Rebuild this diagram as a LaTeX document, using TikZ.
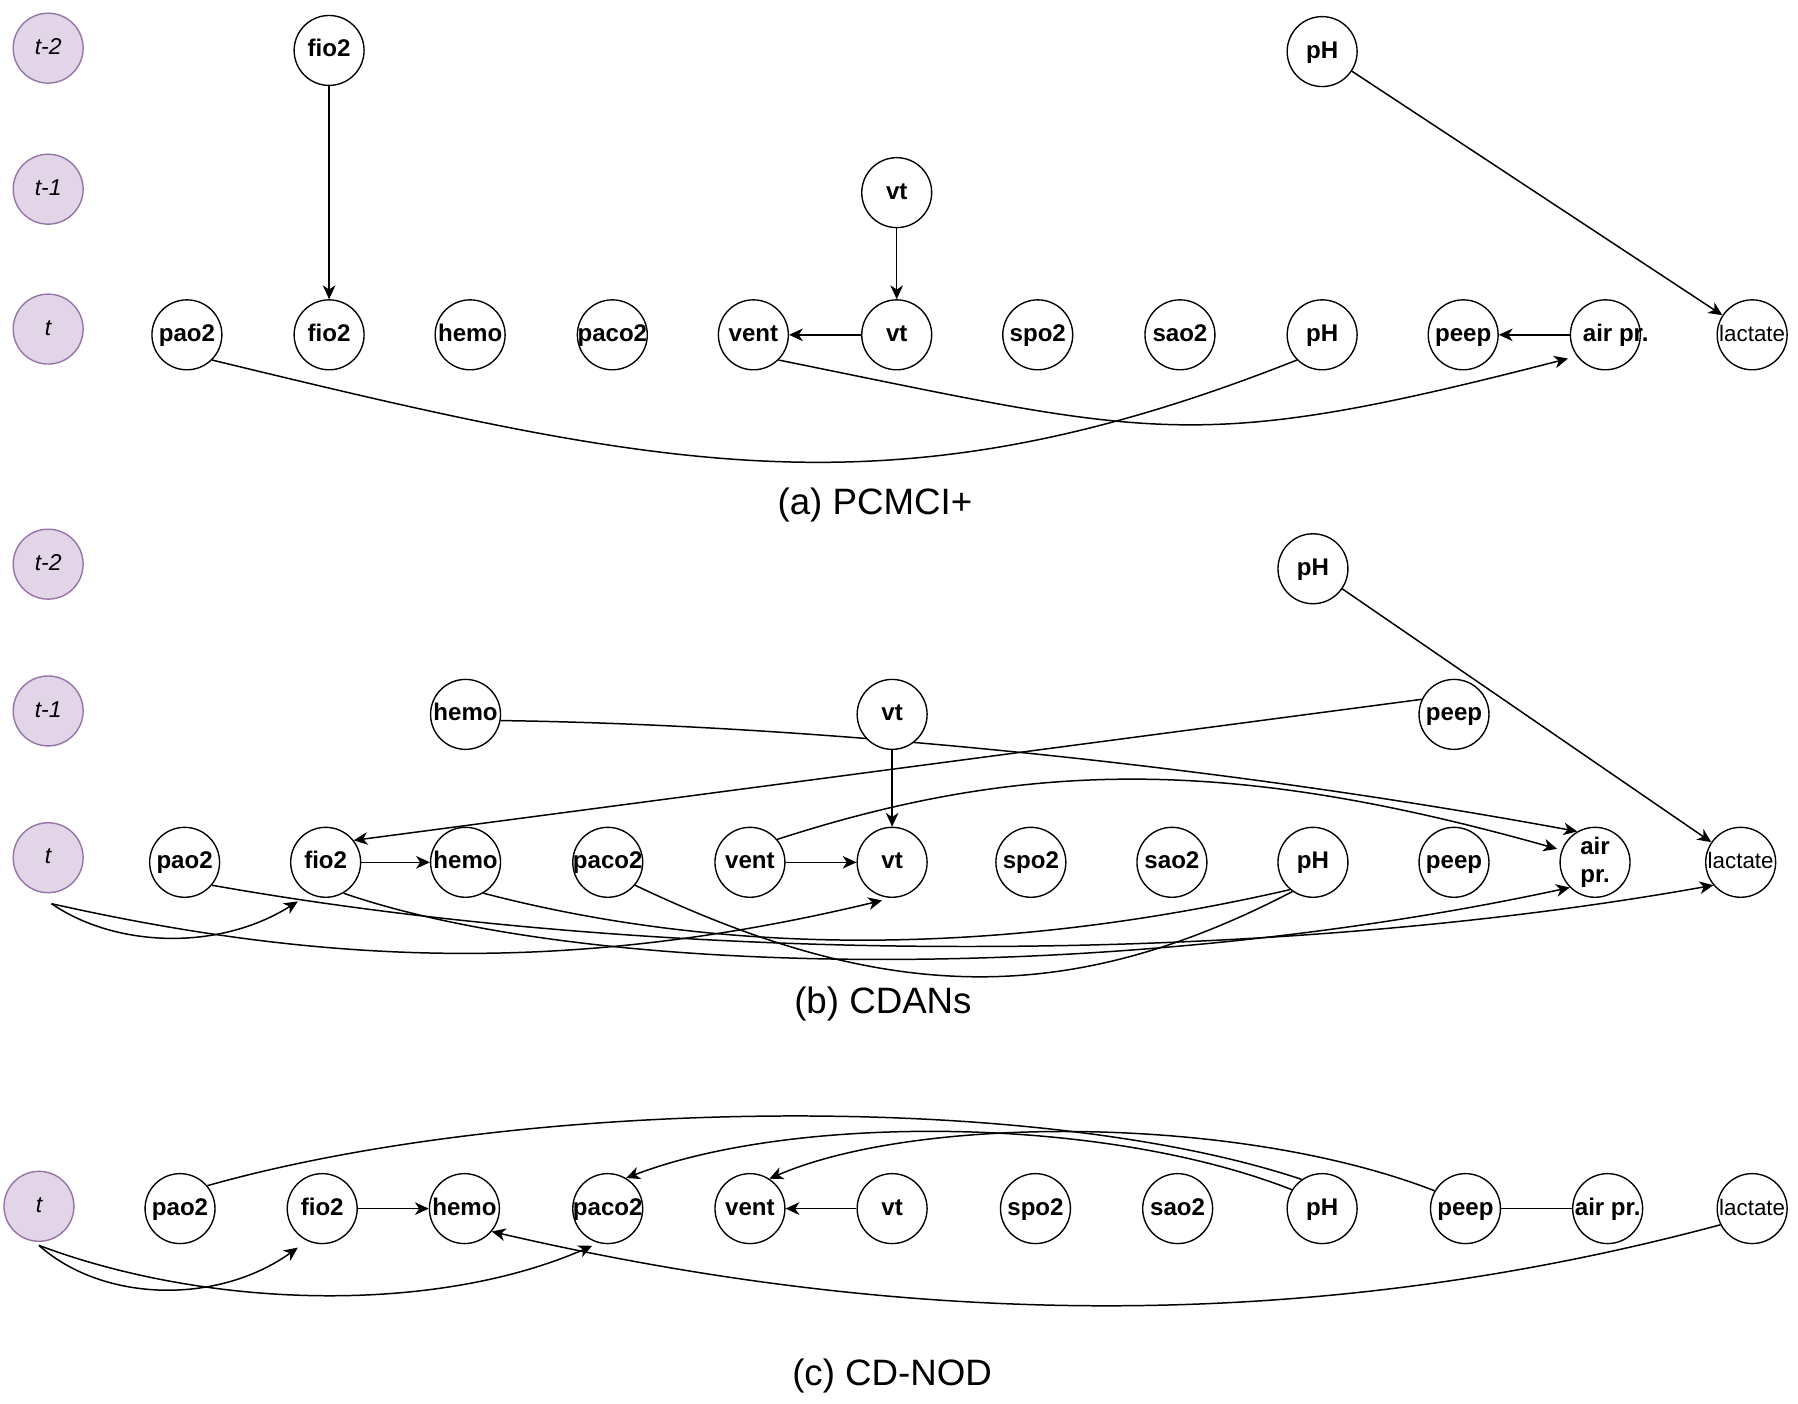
\documentclass[tikz,border=0pt]{standalone}
\usepackage{fontspec}
\setmainfont{Liberation Sans}
\usetikzlibrary{arrows.meta}
\pgfdeclarelayer{bg}
\pgfsetlayers{bg,main}
\definecolor{tfill}{HTML}{E1D5E7}
\definecolor{tline}{HTML}{9673A6}
\newcommand{\lbl}[1]{\makebox[0pt]{#1}}
\tikzset{
  vbase/.style={circle, draw=black, line width=0.6pt, fill=white, minimum size=30.5pt, inner sep=0pt, font=\bfseries\fontsize{10.5}{12.5}\selectfont},
  var/.style={vbase, text height=7.8pt, text depth=2.2pt},
  lac/.style={var, font=\fontsize{9.75}{11}\selectfont},
  tnode/.style={circle, draw=tline, line width=0.6pt, fill=tfill, minimum size=30.5pt, inner sep=0pt, text height=7.4pt, text depth=2pt, font=\itshape\fontsize{10}{12}\selectfont},
  captext/.style={font=\fontsize{16}{19}\selectfont, inner sep=0pt},
  edge/.style={line width=0.65pt, draw=black},
  arr/.style={edge, -{Stealth[length=6pt,width=5.5pt,inset=1.8pt]}},
}
\begin{document}
\begin{tikzpicture}[x=0.5pt, y=-0.5pt]
\useasboundingbox (0,0) rectangle (1568,1224);

% ---------------- panel (a) ----------------
\node[tnode] (ta2) at (42,42) {t-2};
\node[tnode] (ta1) at (42,165) {t-1};
\node[tnode] (ta0) at (42,287) {t};
\node[var] (fio2a2) at (287,44) {\lbl{fio2}};
\node[var] (pHa2) at (1153,45) {\lbl{pH}};
\node[var] (vta1) at (782,168) {\lbl{vt}};
\node[var] (pao2a) at (163,292) {\lbl{pao2}};
\node[var] (fio2a) at (287,292) {\lbl{fio2}};
\node[var] (hemoa) at (410,292) {\lbl{hemo}};
\node[var] (paco2a) at (534,292) {\lbl{paco2}};
\node[var] (venta) at (657,292) {\lbl{vent}};
\node[var] (vta) at (782,292) {\lbl{vt}};
\node[var] (spo2a) at (905,292) {\lbl{spo2}};
\node[var] (sao2a) at (1029,292) {\lbl{sao2}};
\node[var] (pHa) at (1153,292) {\lbl{pH}};
\node[var] (peepa) at (1276,292) {\lbl{peep}};
\node[var] (airpra) at (1400,292) {\lbl{\hspace{9pt}air pr.}};
\node[lac] (laca) at (1528,292) {\lbl{lactate}};
\node[captext] (capa) at (763,440) {(a) PCMCI+};

% ---------------- panel (b) ----------------
\node[tnode] (tb2) at (42,492) {t-2};
\node[tnode] (tb1) at (42,620) {t-1};
\node[tnode] (tb0) at (42,748) {t};
\node[var] (pHb2) at (1145,496) {\lbl{pH}};
\node[var] (hemob1) at (406,623) {\lbl{hemo}};
\node[var] (vtb1) at (778,623) {\lbl{vt}};
\node[var] (peepb1) at (1268,623) {\lbl{peep}};
\node[var] (pao2b) at (161,752) {\lbl{pao2}};
\node[var] (fio2b) at (284,752) {\lbl{fio2}};
\node[var] (hemob) at (406,752) {\lbl{hemo}};
\node[var] (paco2b) at (530,752) {\lbl{paco2}};
\node[var] (ventb) at (654,752) {\lbl{vent}};
\node[var] (vtb) at (778,752) {\lbl{vt}};
\node[var] (spo2b) at (899,752) {\lbl{spo2}};
\node[var] (sao2b) at (1022,752) {\lbl{sao2}};
\node[var] (pHb) at (1145,752) {\lbl{pH}};
\node[var] (peepb) at (1268,752) {\lbl{peep}};
\node[vbase, align=center] (airprb) at (1391,752) {air\\pr.};
\node[lac] (lacb) at (1518,752) {\lbl{lactate}};
\node[captext] (capb) at (770,876) {(b) CDANs};
\coordinate (tbs) at ([xshift=1.5pt,yshift=-4.5pt]tb0.south);

% ---------------- panel (c) ----------------
\node[tnode] (tc0) at (34,1052) {t};
\node[var] (pao2c) at (157,1054) {\lbl{pao2}};
\node[var] (fio2c) at (281,1054) {\lbl{fio2}};
\node[var] (hemoc) at (405,1054) {\lbl{hemo}};
\node[var] (paco2c) at (530,1054) {\lbl{paco2}};
\node[var] (ventc) at (654,1054) {\lbl{vent}};
\node[var] (vtc) at (778,1054) {\lbl{vt}};
\node[var] (spo2c) at (903,1054) {\lbl{spo2}};
\node[var] (sao2c) at (1027,1054) {\lbl{sao2}};
\node[var] (pHc) at (1153,1054) {\lbl{pH}};
\node[var] (peepc) at (1278,1054) {\lbl{peep}};
\node[var] (airprc) at (1402,1054) {\lbl{air pr.}};
\node[lac] (lacc) at (1528,1054) {\lbl{lactate}};
\node[captext] (capc) at (778,1200) {(c) CD-NOD};
\coordinate (tcs) at ([yshift=-1.5pt]tc0.south);

\begin{pgfonlayer}{bg}
\fill[white] (0,0) rectangle (1568,1224);
% panel (a)
\draw[arr] (fio2a2) -- (fio2a);
\draw[arr] (vta1) -- (vta);
\draw[arr] (vta) -- (venta);
\draw[arr] (airpra) -- (peepa);
\draw[arr] (pHa2) -- (laca);
\draw[edge] (pao2a.-45) .. controls (585,411) and (780,453) .. (pHa.225);
\draw[arr, shorten >=4pt] (venta.-45) .. controls (1010,381) and (1040,397) .. (airpra.217);

% panel (b)
\draw[arr] (pHb2) -- (lacb);
\draw[arr] (peepb1.155) -- (fio2b.38);
\draw[arr] (hemob1.-10) .. controls (700,632) and (1050,665) .. (airprb.120);
\draw[arr, shorten >=2pt] (ventb.40) .. controls (900,660) and (1080,662) .. (airprb.160);
\draw[arr] (vtb1) -- (vtb);
\draw[arr] (fio2b) -- (hemob);
\draw[arr] (ventb) -- (vtb);
\draw[arr, shorten >=6pt] (tbs) .. controls (100,826) and (190,830) .. (fio2b.243);
\draw[arr, shorten >=4.5pt] (tbs) .. controls (285,842) and (500,850) .. (vtb.south);
\draw[arr] (pao2b.-40) .. controls (585,843) and (1098,843) .. (lacb.220);
\draw[arr] (fio2b.-60) .. controls (520,855) and (980,858) .. (airprb.-135);
\draw[edge] (hemob.-60) .. controls (640,836) and (880,832) .. (pHb.-130);
\draw[edge] (paco2b.-40) .. controls (770,875) and (930,880) .. (pHb.-125);

% panel (c)
\draw[arr] (fio2c) -- (hemoc);
\draw[arr] (vtc) -- (ventc);
\draw[edge] (peepc) -- (airprc);
\draw[edge] (pao2c.40) .. controls (450,958) and (900,950) .. (pHc.125);
\draw[arr] (pHc.148) .. controls (960,972) and (690,972) .. (paco2c.59);
\draw[arr] (peepc.150) .. controls (1080,972) and (800,972) .. (ventc.57);
\draw[arr] (lacc.207) .. controls (1150,1162) and (800,1160) .. (hemoc.-40);
\draw[arr, shorten >=5pt] (tcs) .. controls (90,1136) and (190,1138) .. (fio2c.245);
\draw[arr, shorten >=3pt] (tcs) .. controls (183,1142) and (380,1146) .. (paco2c.255);
\end{pgfonlayer}
\end{tikzpicture}
\end{document}
